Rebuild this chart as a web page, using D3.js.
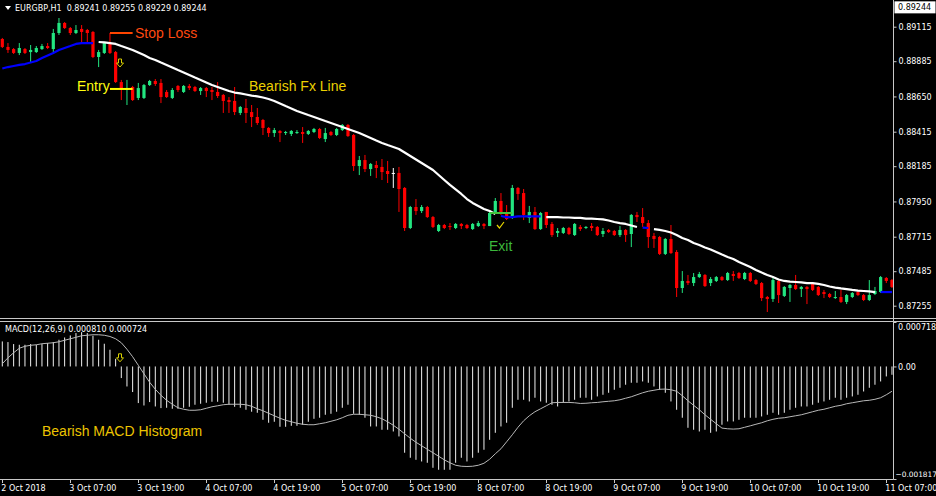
<!DOCTYPE html>
<html><head><meta charset="utf-8">
<script src="https://cdn.jsdelivr.net/npm/d3@7"></script>
<style>
html,body{margin:0;padding:0;background:#000;overflow:hidden;}
svg{display:block;}
</style></head><body>
<svg id="chart" width="936" height="496"></svg>
<script>
// ---------------- DATA ----------------
const symbolHeader = "EURGBP,H1  0.89241 0.89255 0.89229 0.89244";
const macdHeader = "MACD(12,26,9) 0.000810 0.000724";
const lastPrice = 0.89244;
const timeLabels = ["2 Oct 2018","3 Oct 07:00","3 Oct 19:00","4 Oct 07:00","4 Oct 19:00","5 Oct 07:00","5 Oct 19:00","8 Oct 07:00","8 Oct 19:00","9 Oct 07:00","9 Oct 19:00","10 Oct 07:00","10 Oct 19:00","11 Oct 07:00"];
const timeLabelBars = [0,12,24,36,48,60,72,84,96,108,120,132,144,156];
const priceTicks = [0.89115,0.88885,0.88650,0.88415,0.88185,0.87950,0.87715,0.87485,0.87255];
const macdTicks = [0.000718, 0, -0.001817];

const open = [0.89033,0.88980,0.88966,0.88940,0.88966,0.88946,0.88946,0.88966,0.88986,0.88966,
0.89073,0.89140,0.89106,0.89073,0.89100,0.89093,0.89080,0.88913,0.88940,0.89006,
0.88946,0.88746,0.88693,0.88713,0.88640,0.88640,0.88726,0.88753,0.88740,0.88680,
0.88640,0.88720,0.88680,0.88720,0.88713,0.88686,0.88706,0.88693,0.88680,0.88660,
0.88626,0.88620,0.88540,0.88573,0.88546,0.88513,0.88493,0.88440,0.88406,0.88420,
0.88406,0.88400,0.88406,0.88413,0.88400,0.88413,0.88433,0.88366,0.88413,0.88393,
0.88426,0.88460,0.88393,0.88186,0.88226,0.88166,0.88193,0.88180,0.88153,0.88140,
0.88140,0.88040,0.87773,0.87913,0.87886,0.87913,0.87846,0.87753,0.87793,0.87786,
0.87773,0.87800,0.87793,0.87766,0.87786,0.87800,0.87786,0.87873,0.87953,0.87873,
0.87840,0.88040,0.88006,0.87840,0.87880,0.87766,0.87880,0.87800,0.87740,0.87740,
0.87773,0.87726,0.87780,0.87773,0.87786,0.87780,0.87733,0.87760,0.87753,0.87726,
0.87760,0.87733,0.87860,0.87846,0.87806,0.87720,0.87713,0.87600,0.87700,0.87613,
0.87373,0.87420,0.87406,0.87446,0.87460,0.87406,0.87420,0.87446,0.87426,0.87466,
0.87473,0.87433,0.87473,0.87426,0.87406,0.87313,0.87300,0.87420,0.87320,0.87373,
0.87393,0.87366,0.87380,0.87406,0.87380,0.87346,0.87333,0.87306,0.87313,0.87280,
0.87313,0.87346,0.87326,0.87293,0.87333,0.87346,0.87440,0.87426];
const high = [0.89040,0.89006,0.88973,0.89006,0.88973,0.88993,0.88986,0.89000,0.89006,0.89100,
0.89173,0.89146,0.89113,0.89126,0.89126,0.89100,0.89086,0.88960,0.89013,0.89073,
0.88953,0.88760,0.88760,0.88720,0.88740,0.88733,0.88760,0.88766,0.88766,0.88693,
0.88706,0.88726,0.88726,0.88733,0.88720,0.88713,0.88713,0.88713,0.88746,0.88666,
0.88646,0.88713,0.88586,0.88633,0.88593,0.88573,0.88500,0.88446,0.88440,0.88426,
0.88420,0.88426,0.88426,0.88446,0.88426,0.88440,0.88440,0.88440,0.88420,0.88440,
0.88466,0.88466,0.88400,0.88253,0.88260,0.88206,0.88220,0.88233,0.88220,0.88173,
0.88180,0.88046,0.87920,0.87966,0.87926,0.87920,0.87853,0.87800,0.87800,0.87806,
0.87806,0.87806,0.87800,0.87806,0.87820,0.87806,0.87880,0.87973,0.88006,0.87926,
0.88060,0.88046,0.88033,0.87920,0.87913,0.87880,0.87880,0.87813,0.87773,0.87780,
0.87780,0.87806,0.87793,0.87786,0.87806,0.87786,0.87773,0.87766,0.87760,0.87786,
0.87766,0.87866,0.87880,0.87906,0.87826,0.87740,0.87720,0.87706,0.87793,0.87626,
0.87486,0.87460,0.87473,0.87480,0.87466,0.87446,0.87453,0.87453,0.87480,0.87486,
0.87480,0.87480,0.87480,0.87433,0.87413,0.87320,0.87440,0.87426,0.87386,0.87400,
0.87460,0.87386,0.87386,0.87413,0.87386,0.87360,0.87340,0.87353,0.87360,0.87333,
0.87346,0.87353,0.87333,0.87426,0.87380,0.87453,0.87446,0.87433];
const low = [0.88973,0.88940,0.88933,0.88926,0.88933,0.88880,0.88940,0.88960,0.88966,0.88940,
0.89060,0.89100,0.89060,0.89066,0.89013,0.89006,0.88906,0.88846,0.88933,0.88933,
0.88740,0.88626,0.88593,0.88620,0.88626,0.88633,0.88720,0.88720,0.88606,0.88640,
0.88633,0.88680,0.88673,0.88693,0.88680,0.88660,0.88646,0.88626,0.88640,0.88540,
0.88540,0.88526,0.88526,0.88473,0.88446,0.88460,0.88393,0.88380,0.88380,0.88346,
0.88393,0.88386,0.88400,0.88340,0.88393,0.88406,0.88366,0.88346,0.88386,0.88386,
0.88420,0.88380,0.88153,0.88126,0.88146,0.88120,0.88106,0.88093,0.88073,0.88040,
0.87880,0.87753,0.87766,0.87860,0.87873,0.87840,0.87773,0.87746,0.87766,0.87760,
0.87766,0.87766,0.87766,0.87760,0.87780,0.87766,0.87786,0.87866,0.87860,0.87826,
0.87833,0.87960,0.87826,0.87806,0.87760,0.87760,0.87773,0.87713,0.87713,0.87733,
0.87726,0.87720,0.87753,0.87766,0.87753,0.87720,0.87713,0.87740,0.87720,0.87713,
0.87680,0.87646,0.87813,0.87780,0.87640,0.87640,0.87593,0.87593,0.87600,0.87313,
0.87340,0.87393,0.87386,0.87440,0.87380,0.87386,0.87413,0.87420,0.87420,0.87420,
0.87433,0.87426,0.87413,0.87393,0.87286,0.87213,0.87280,0.87273,0.87313,0.87280,
0.87360,0.87313,0.87266,0.87353,0.87320,0.87306,0.87306,0.87300,0.87273,0.87266,
0.87306,0.87320,0.87286,0.87286,0.87326,0.87340,0.87406,0.87373];
const close = [0.88980,0.88960,0.88940,0.88973,0.88940,0.88960,0.88973,0.88986,0.88973,0.89073,
0.89140,0.89106,0.89073,0.89093,0.89080,0.89073,0.88913,0.88946,0.89006,0.88940,
0.88746,0.88706,0.88706,0.88626,0.88706,0.88726,0.88753,0.88733,0.88646,0.88646,
0.88693,0.88693,0.88720,0.88706,0.88686,0.88706,0.88686,0.88680,0.88653,0.88620,
0.88613,0.88546,0.88580,0.88540,0.88513,0.88473,0.88440,0.88406,0.88426,0.88406,
0.88413,0.88420,0.88413,0.88400,0.88420,0.88433,0.88373,0.88406,0.88393,0.88433,
0.88460,0.88386,0.88186,0.88226,0.88166,0.88200,0.88173,0.88146,0.88133,0.88140,
0.88033,0.87773,0.87913,0.87886,0.87913,0.87846,0.87780,0.87793,0.87773,0.87780,
0.87800,0.87786,0.87773,0.87800,0.87806,0.87786,0.87873,0.87953,0.87873,0.87833,
0.88040,0.88000,0.87860,0.87880,0.87766,0.87873,0.87793,0.87726,0.87753,0.87773,
0.87733,0.87800,0.87766,0.87780,0.87773,0.87726,0.87753,0.87746,0.87726,0.87760,
0.87726,0.87860,0.87846,0.87806,0.87713,0.87700,0.87600,0.87700,0.87606,0.87373,
0.87420,0.87406,0.87446,0.87466,0.87386,0.87433,0.87446,0.87426,0.87473,0.87453,
0.87440,0.87473,0.87420,0.87400,0.87306,0.87300,0.87426,0.87326,0.87380,0.87393,
0.87366,0.87380,0.87366,0.87360,0.87326,0.87333,0.87313,0.87313,0.87280,0.87326,
0.87340,0.87326,0.87293,0.87326,0.87353,0.87446,0.87420,0.87380];

// "Bearish Fx Line" moving average, and the bar ranges where it is drawn blue (rising)
const fxLine = [0.88836,0.88846,0.88853,0.88860,0.88866,0.88876,0.88886,0.88906,0.88923,0.88940,
0.88960,0.88973,0.88986,0.89000,0.89006,0.89006,0.89006,0.89013,0.89010,0.89006,
0.89000,0.88986,0.88973,0.88960,0.88943,0.88926,0.88906,0.88893,0.88876,0.88860,
0.88843,0.88826,0.88810,0.88793,0.88776,0.88760,0.88743,0.88726,0.88713,0.88700,
0.88686,0.88676,0.88670,0.88663,0.88656,0.88650,0.88643,0.88633,0.88620,0.88603,
0.88586,0.88570,0.88553,0.88540,0.88526,0.88513,0.88500,0.88486,0.88473,0.88460,
0.88446,0.88433,0.88420,0.88406,0.88390,0.88373,0.88356,0.88340,0.88326,0.88313,
0.88300,0.88276,0.88253,0.88230,0.88206,0.88183,0.88160,0.88126,0.88093,0.88060,
0.88030,0.88000,0.87966,0.87940,0.87920,0.87900,0.87886,0.87866,0.87853,0.87846,
0.87846,0.87850,0.87850,0.87850,0.87850,0.87850,0.87846,0.87846,0.87846,0.87843,
0.87843,0.87840,0.87840,0.87836,0.87836,0.87833,0.87830,0.87823,0.87813,0.87806,
0.87800,0.87790,0.87780,0.87776,0.87773,0.87766,0.87760,0.87753,0.87743,0.87726,
0.87706,0.87693,0.87673,0.87660,0.87643,0.87630,0.87613,0.87596,0.87580,0.87566,
0.87546,0.87530,0.87513,0.87493,0.87476,0.87460,0.87446,0.87430,0.87420,0.87416,
0.87413,0.87410,0.87406,0.87406,0.87400,0.87393,0.87383,0.87376,0.87370,0.87366,
0.87360,0.87356,0.87353,0.87350,0.87346,0.87346,0.87346,0.87346];
const fxUpRanges = [[0,16],[88,95],[113,114],[155,157]];

// MACD main (histogram) and signal
const macdMain = [0.000404,0.000394,0.000362,0.000350,0.000350,0.000362,0.000350,0.000362,0.000378,0.000394,
0.000431,0.000468,0.000501,0.000539,0.000555,0.000539,0.000496,0.000431,0.000367,0.000270,
0.000124,-0.000187,-0.000323,-0.000413,-0.000591,-0.000630,-0.000575,-0.000646,-0.000672,-0.000667,
-0.000683,-0.000683,-0.000667,-0.000651,-0.000618,-0.000602,-0.000586,-0.000570,-0.000570,-0.000586,
-0.000618,-0.000651,-0.000667,-0.000699,-0.000731,-0.000748,-0.000861,-0.000909,-0.000893,-0.000974,
-0.000974,-0.000958,-0.000958,-0.000941,-0.000893,-0.000845,-0.000828,-0.000780,-0.000764,-0.000731,
-0.000667,-0.000618,-0.000764,-0.000780,-0.000828,-0.000969,-0.000969,-0.001022,-0.001022,-0.001050,
-0.001130,-0.001393,-0.001474,-0.001507,-0.001534,-0.001555,-0.001636,-0.001668,-0.001668,-0.001668,
-0.001555,-0.001474,-0.001534,-0.001474,-0.001393,-0.001345,-0.001184,-0.001071,-0.000969,-0.000909,
-0.000667,-0.000538,-0.000538,-0.000565,-0.000505,-0.000565,-0.000586,-0.000618,-0.000646,-0.000586,
-0.000565,-0.000538,-0.000505,-0.000505,-0.000538,-0.000484,-0.000457,-0.000425,-0.000376,-0.000344,
-0.000295,-0.000263,-0.000263,-0.000242,-0.000263,-0.000323,-0.000376,-0.000425,-0.000565,-0.000699,
-0.000828,-0.000990,-0.001022,-0.001050,-0.001022,-0.001071,-0.001050,-0.000941,-0.000888,-0.000888,
-0.000861,-0.000828,-0.000828,-0.000828,-0.000807,-0.000780,-0.000748,-0.000780,-0.000748,-0.000699,
-0.000667,-0.000646,-0.000646,-0.000618,-0.000586,-0.000565,-0.000538,-0.000505,-0.000538,-0.000505,
-0.000484,-0.000457,-0.000404,-0.000344,-0.000295,-0.000242,-0.000161,-0.000134];
const macdSignal = [0.000044,0.000140,0.000221,0.000294,0.000326,0.000342,0.000350,0.000367,0.000375,0.000383,
0.000399,0.000423,0.000447,0.000471,0.000496,0.000504,0.000512,0.000512,0.000504,0.000484,
0.000447,0.000383,0.000278,0.000157,0.000019,-0.000118,-0.000255,-0.000368,-0.000465,-0.000546,
-0.000610,-0.000667,-0.000691,-0.000707,-0.000707,-0.000699,-0.000675,-0.000651,-0.000635,-0.000618,
-0.000610,-0.000610,-0.000610,-0.000618,-0.000643,-0.000683,-0.000715,-0.000756,-0.000796,-0.000836,
-0.000869,-0.000893,-0.000917,-0.000933,-0.000941,-0.000941,-0.000925,-0.000909,-0.000885,-0.000861,
-0.000828,-0.000788,-0.000772,-0.000772,-0.000780,-0.000788,-0.000812,-0.000844,-0.000893,-0.000949,
-0.001014,-0.001087,-0.001159,-0.001224,-0.001280,-0.001337,-0.001393,-0.001450,-0.001507,-0.001555,
-0.001595,-0.001611,-0.001615,-0.001611,-0.001595,-0.001563,-0.001498,-0.001410,-0.001329,-0.001216,
-0.001103,-0.000982,-0.000877,-0.000796,-0.000731,-0.000683,-0.000635,-0.000586,-0.000581,-0.000581,
-0.000581,-0.000586,-0.000597,-0.000594,-0.000586,-0.000581,-0.000570,-0.000562,-0.000554,-0.000538,
-0.000513,-0.000489,-0.000457,-0.000425,-0.000400,-0.000384,-0.000368,-0.000365,-0.000376,-0.000400,
-0.000473,-0.000554,-0.000627,-0.000699,-0.000780,-0.000853,-0.000925,-0.000995,-0.001006,-0.001011,
-0.001006,-0.000982,-0.000958,-0.000933,-0.000909,-0.000877,-0.000853,-0.000836,-0.000828,-0.000812,
-0.000796,-0.000780,-0.000756,-0.000731,-0.000707,-0.000691,-0.000667,-0.000643,-0.000627,-0.000602,
-0.000586,-0.000570,-0.000554,-0.000546,-0.000530,-0.000505,-0.000457,-0.000400];

// trade annotations: [firstBar, lastBar, price]
const stopLossMark = [19, 23, 0.89073];
const entryMark = [19, 23, 0.88700];
const exitMark = [86, 90, 0.87873];
const sellArrowBar = 21, sellArrowPrice = 0.88873, sellArrowMacd = 0.000140;
const exitCheckBar = 88, exitCheckPrice = 0.87793;

// ---------------- DRAW ----------------
const svg = d3.select("#chart");
const W = 936, H = 496;
const plotRight = 893;
const mainTop = 0, mainBottom = 318;
const macdTop = 322, macdBottom = 479;
const N = open.length;
const idx = d3.range(N);

svg.append("rect").attr("width", W).attr("height", H).attr("fill", "#000");

const x = d3.scaleLinear().domain([0, 157]).range([2.3, 2.3 + 157 * 17 / 3]);
const y = d3.scaleLinear().domain([0.87173, 0.89293]).range([mainBottom, mainTop]);
const ym = d3.scaleLinear().domain([-0.001817, 0.000718]).range([macdBottom, macdTop]);

const defs = svg.append("defs");
defs.append("clipPath").attr("id", "clipMain").append("rect")
  .attr("x", 0).attr("y", 0).attr("width", plotRight).attr("height", mainBottom);
defs.append("clipPath").attr("id", "clipMacd").append("rect")
  .attr("x", 0).attr("y", macdTop).attr("width", plotRight).attr("height", macdBottom - macdTop);

const axisFont = "DejaVu Sans, Verdana, sans-serif";
const annFont = "Liberation Sans, Arial, sans-serif";

// ---- candles
const bull = "#22e680", bear = "#ff0000";
const candleColor = i => close[i] > open[i] ? bull : (close[i] < open[i] ? bear : "#ffffff");
const gMain = svg.append("g").attr("clip-path", "url(#clipMain)");
gMain.selectAll("line.wick").data(idx).join("line").attr("class", "wick")
  .attr("x1", i => x(i)).attr("x2", i => x(i))
  .attr("y1", i => y(high[i])).attr("y2", i => y(low[i]))
  .attr("stroke", candleColor).attr("stroke-width", 1);
gMain.selectAll("rect.body").data(idx).join("rect").attr("class", "body")
  .attr("x", i => x(i) - 1.6).attr("width", 3.2)
  .attr("y", i => y(Math.max(open[i], close[i])))
  .attr("height", i => Math.max(1, Math.abs(y(open[i]) - y(close[i]))))
  .attr("fill", candleColor);

// ---- Bearish Fx Line (two-colour MA)
const isUp = i => fxUpRanges.some(([a, b]) => i >= a && i <= b);
const runs = [];
let cur = null;
idx.forEach(i => {
  const u = isUp(i);
  if (!cur || cur.up !== u) { cur = { up: u, bars: [] }; runs.push(cur); }
  cur.bars.push(i);
});
const maLine = d3.line().x(i => x(i)).y(i => y(fxLine[i]));
runs.forEach(r => {
  if (r.bars.length < 2) return;
  gMain.append("path").attr("d", maLine(r.bars)).attr("fill", "none")
    .attr("stroke", r.up ? "#0000ff" : "#ffffff").attr("stroke-width", 2.2)
    .attr("stroke-linejoin", "round");
});

// ---- trade annotations (main)
function hmark(m, color) {
  gMain.append("line").attr("x1", x(m[0])).attr("x2", x(m[1]))
    .attr("y1", y(m[2])).attr("y2", y(m[2])).attr("stroke", color).attr("stroke-width", 2);
}
hmark(stopLossMark, "#ff4500");
hmark(entryMark, "#ffff00");
hmark(exitMark, "#44c23c");

function downArrow(g, cx, cy, color) {
  const p = `M${cx-1.5},${cy-4} L${cx+1.5},${cy-4} L${cx+1.5},${cy} L${cx+3.5},${cy} L${cx},${cy+4} L${cx-3.5},${cy} L${cx-1.5},${cy} Z`;
  g.append("path").attr("d", p).attr("fill", "none").attr("stroke", color).attr("stroke-width", 1);
}
downArrow(gMain, x(sellArrowBar) - 1.3, y(sellArrowPrice), "#d8d000");
gMain.append("path")
  .attr("d", `M${x(exitCheckBar)-4},${y(exitCheckPrice)} L${x(exitCheckBar)-1.5},${y(exitCheckPrice)+3} L${x(exitCheckBar)+3},${y(exitCheckPrice)-3}`)
  .attr("fill", "none").attr("stroke", "#e8d800").attr("stroke-width", 1.2);

const ann = [
  { t: "Stop Loss", x: 135, y: 38, c: "#ff4a10" },
  { t: "Entry", x: 77, y: 91, c: "#ffff10" },
  { t: "Bearish Fx Line", x: 249, y: 91, c: "#ecd000" },
  { t: "Exit", x: 489, y: 251, c: "#3cb83c" },
  { t: "Bearish MACD Histogram", x: 42, y: 436, c: "#ecc400" }
];
svg.selectAll("text.ann").data(ann).join("text").attr("class", "ann")
  .attr("x", d => d.x).attr("y", d => d.y).text(d => d.t)
  .attr("fill", d => d.c).attr("font-family", annFont).attr("font-size", 14);

// ---- MACD
const gMacd = svg.append("g").attr("clip-path", "url(#clipMacd)");
gMacd.selectAll("line.hist").data(idx).join("line").attr("class", "hist")
  .attr("x1", i => x(i)).attr("x2", i => x(i))
  .attr("y1", ym(0)).attr("y2", i => ym(macdMain[i]))
  .attr("stroke", "#f0f0f0").attr("stroke-width", 1);
gMacd.append("path").datum(idx)
  .attr("d", d3.line().x(i => x(i)).y(i => ym(macdSignal[i])))
  .attr("fill", "none").attr("stroke", "#b8b8b8").attr("stroke-width", 1);
downArrow(gMacd, x(sellArrowBar) - 1.3, ym(sellArrowMacd), "#d8d000");

// ---- frame
const frame = svg.append("g").attr("stroke", "#c8c8c8").attr("stroke-width", 1);
frame.append("line").attr("x1", plotRight + 0.5).attr("x2", plotRight + 0.5).attr("y1", 0).attr("y2", macdBottom + 0.5);
frame.append("line").attr("x1", 0).attr("x2", W).attr("y1", mainBottom + 0.5).attr("y2", mainBottom + 0.5);
frame.append("line").attr("x1", 0).attr("x2", W).attr("y1", macdTop - 0.5).attr("y2", macdTop - 0.5);
frame.append("line").attr("x1", 0).attr("x2", plotRight + 0.5).attr("y1", macdBottom + 0.5).attr("y2", macdBottom + 0.5);

// ---- price axis
const pAxis = svg.append("g").attr("transform", `translate(${plotRight + 0.5},0)`)
  .call(d3.axisRight(y).tickValues(priceTicks).tickSize(3).tickPadding(2).tickFormat(d3.format(".5f")));
pAxis.select(".domain").remove();
pAxis.selectAll("line").attr("stroke", "#c8c8c8");
pAxis.selectAll("text").attr("fill", "#ffffff").attr("font-family", axisFont).attr("font-size", 8);

// current price box
svg.append("rect").attr("x", plotRight + 1.5).attr("y", y(lastPrice) - 6).attr("width", W - plotRight - 2).attr("height", 12)
  .attr("fill", "#ffffff");
svg.append("text").attr("x", plotRight + 5).attr("y", y(lastPrice) + 3).text(d3.format(".5f")(lastPrice))
  .attr("fill", "#000").attr("font-family", axisFont).attr("font-size", 8);

// ---- MACD axis
const mAxis = svg.append("g").attr("transform", `translate(${plotRight + 0.5},0)`)
  .call(d3.axisRight(ym).tickValues(macdTicks).tickSize(3).tickPadding(1.5)
    .tickFormat(v => v === 0 ? "0.00" : d3.format(".6f")(v)));
mAxis.select(".domain").remove();
mAxis.selectAll("line").attr("stroke", "#c8c8c8");
mAxis.selectAll("text").attr("fill", "#ffffff").attr("font-family", axisFont)
  .attr("font-size", v => v === macdTicks[2] ? 7.4 : 8)
  .attr("x", v => v === macdTicks[2] ? 2 : 4.5)
  .attr("dy", v => v === macdTicks[0] ? "0.95em" : (v === macdTicks[2] ? "-0.35em" : "0.32em"));

// ---- time axis
const tAxis = svg.append("g");
tAxis.selectAll("line").data(timeLabelBars).join("line")
  .attr("x1", b => Math.round(x(b)) + 0.5).attr("x2", b => Math.round(x(b)) + 0.5)
  .attr("y1", macdBottom).attr("y2", macdBottom + 4).attr("stroke", "#c8c8c8");
tAxis.selectAll("text").data(timeLabelBars).join("text")
  .attr("x", b => x(b) - 1).attr("y", 491).text((b, k) => timeLabels[k])
  .attr("fill", "#ffffff").attr("font-family", axisFont).attr("font-size", 8);

// ---- headers
svg.append("path").attr("d", "M5,6 L11,6 L8,10 Z").attr("fill", "#ffffff");
svg.append("text").attr("x", 15).attr("y", 11).text(symbolHeader)
  .style("white-space", "pre")
  .attr("fill", "#ffffff").attr("font-family", axisFont).attr("font-size", 8);
svg.append("text").attr("x", 5).attr("y", 332).text(macdHeader)
  .attr("fill", "#ffffff").attr("font-family", axisFont).attr("font-size", 8);
</script>
</body></html>
